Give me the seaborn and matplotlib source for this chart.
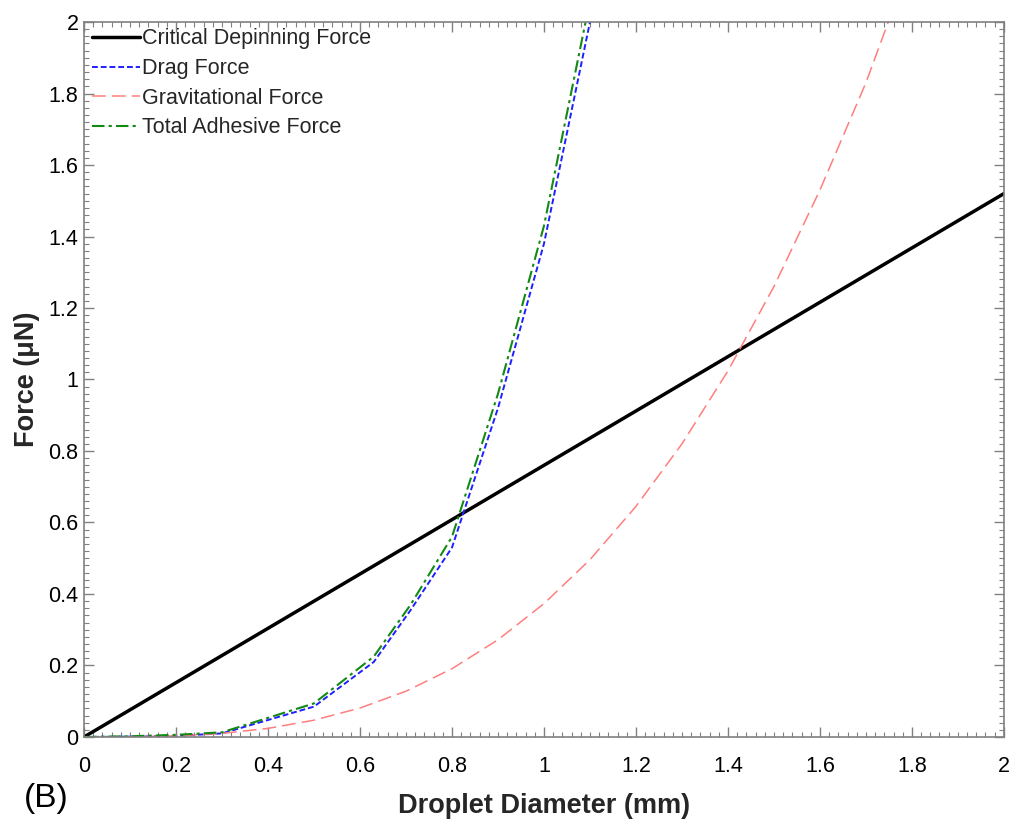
import numpy as np
import pandas as pd
import matplotlib
matplotlib.use("Agg")
import matplotlib.pyplot as plt
import seaborn as sns
from matplotlib.ticker import MultipleLocator

# ---- data ----
crit_x = [0.0, 2.0]
crit_y = [0.0, 1.52]

drag_x = [0.0, 0.1, 0.2, 0.3, 0.5, 0.63, 0.71, 0.8, 0.9, 1.0, 1.1, 1.2]
drag_y = [0.0, 0.001, 0.003, 0.010, 0.085, 0.21, 0.355, 0.53, 0.92, 1.38, 2.0, 2.75]

grav_x = [0.0, 0.1, 0.2, 0.3, 0.4, 0.5, 0.6, 0.7, 0.8, 0.9, 1.0, 1.1, 1.2,
          1.3, 1.4, 1.5, 1.6, 1.7, 1.8]
grav_y = [0.0, 0.0004, 0.003, 0.010, 0.024, 0.047, 0.081, 0.128, 0.191,
          0.272, 0.373, 0.496, 0.645, 0.82, 1.024, 1.26, 1.53, 1.83, 2.18]

total_x = [0.0, 0.1, 0.2, 0.3, 0.5, 0.63, 0.71, 0.8, 0.9, 1.0, 1.1, 1.2]
total_y = [0.0, 0.002, 0.006, 0.013, 0.094, 0.225, 0.37, 0.56, 0.96, 1.43, 2.06, 2.82]

labels = ["Critical Depinning Force", "Drag Force", "Gravitational Force",
          "Total Adhesive Force"]

sns.set_style("ticks")
plt.rcParams['font.family'] = ['Liberation Sans', 'DejaVu Sans']

fig = plt.figure(figsize=(10.13, 8.25), dpi=100)
ax = fig.add_axes([0.083, 0.1067, 0.908, 0.8666])

sns.lineplot(x=crit_x, y=crit_y, ax=ax, color="black", lw=2.5, label=labels[0])
sns.lineplot(x=drag_x, y=drag_y, ax=ax, color="#1f1fff", lw=1.4,
             label=labels[1], linestyle=(0, (3, 1.5)))
sns.lineplot(x=grav_x, y=grav_y, ax=ax, color="#ff7f7f", lw=1.1,
             label=labels[2], linestyle=(0, (9, 4)))
sns.lineplot(x=total_x, y=total_y, ax=ax, color="#138a13", lw=1.5,
             label=labels[3], linestyle=(0, (6, 2, 1.5, 2)))

ax.set_xlim(0, 2)
ax.set_ylim(0, 2)
ax.xaxis.set_major_locator(MultipleLocator(0.2))
ax.xaxis.set_minor_locator(MultipleLocator(0.02))
ax.yaxis.set_major_locator(MultipleLocator(0.2))
ax.yaxis.set_minor_locator(MultipleLocator(0.02))

def fmt(v, pos):
    s = f"{v:.1f}"
    return s.rstrip('0').rstrip('.') if '.' in s else s
ax.xaxis.set_major_formatter(plt.FuncFormatter(fmt))
ax.yaxis.set_major_formatter(plt.FuncFormatter(fmt))

gray = "#808080"
for sp in ax.spines.values():
    sp.set_visible(True)
    sp.set_color(gray)
    sp.set_linewidth(1.2)
ax.tick_params(which="both", direction="in", top=True, right=True,
               color=gray, labelsize=15.5, labelcolor="black")
ax.tick_params(which="major", length=7, width=1.0)
ax.tick_params(which="minor", length=3.5, width=0.8)
ax.tick_params(axis="x", pad=14)
ax.tick_params(axis="y", pad=4)

ax.set_xlabel("Droplet Diameter (mm)", fontsize=19.5, fontweight="bold", labelpad=11)
ax.set_ylabel("Force (μN)", fontsize=19.5, fontweight="bold", labelpad=6)

leg = ax.legend(loc="upper left", frameon=False, fontsize=15.5,
                handlelength=2.2, handletextpad=0.1, borderaxespad=0.0,
                borderpad=0.3, labelspacing=0.4,
                bbox_to_anchor=(0.002, 1.0))

fig.text(0.024, 0.022, "(B)", fontsize=24, color="black")

fig.savefig("out.png", dpi=100, facecolor="white")
